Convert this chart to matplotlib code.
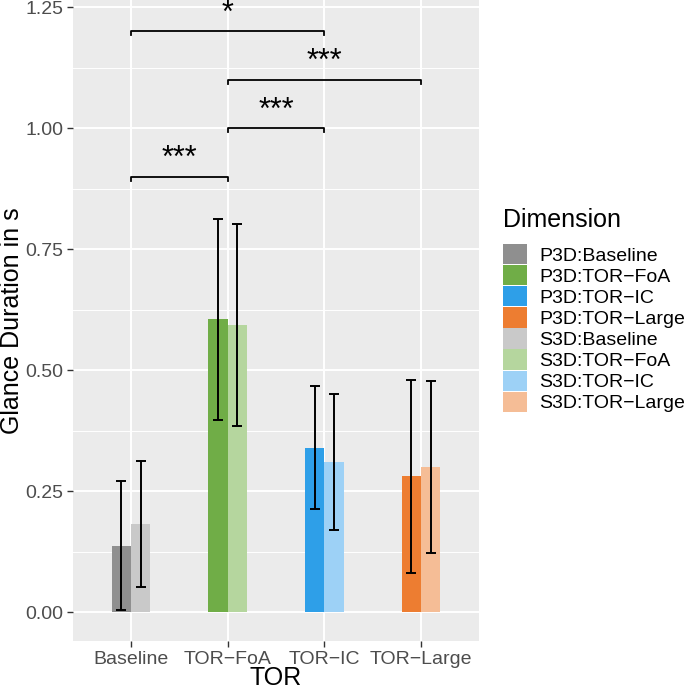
import numpy as np
from matplotlib import pyplot as plt
from matplotlib.patches import Patch

plt.rcParams["font.family"] = ["Liberation Sans", "DejaVu Sans"]

categories = ["Baseline", "TOR\u2212FoA", "TOR\u2212IC", "TOR\u2212Large"]

p3d_mean = [0.137, 0.605, 0.339, 0.281]
p3d_lower = [0.004, 0.397, 0.214, 0.082]
p3d_upper = [0.272, 0.812, 0.467, 0.480]

s3d_mean = [0.182, 0.594, 0.310, 0.300]
s3d_lower = [0.052, 0.384, 0.171, 0.123]
s3d_upper = [0.312, 0.802, 0.451, 0.478]

p3d_colors = ["#8f8f8f", "#70ad47", "#2e9fe8", "#ed7d31"]
s3d_colors = ["#c9c9c9", "#b5d69e", "#9dd1f6", "#f5bd96"]

legend_labels = ["P3D:" + c for c in categories] + ["S3D:" + c for c in categories]

bracket_start = [0, 1, 1, 0]
bracket_end = [1, 2, 3, 2]
bracket_height = [0.9, 1.0, 1.1, 1.2]
bracket_label = ["***", "***", "***", "*"]

y_ticks = [0.0, 0.25, 0.50, 0.75, 1.00, 1.25]


def main():
    figure = plt.figure(figsize=(6.85, 6.89), dpi=100)
    axis = figure.add_axes([73 / 685, 48 / 689, 406 / 685, 641 / 689])

    x = np.arange(len(categories))

    axis.bar(x - 0.1, p3d_mean, width=0.2, color=p3d_colors, zorder=2)
    axis.bar(x + 0.1, s3d_mean, width=0.2, color=s3d_colors, zorder=2)

    for offset, mean, lower, upper in [
        (-0.1, p3d_mean, p3d_lower, p3d_upper),
        (0.1, s3d_mean, s3d_lower, s3d_upper),
    ]:
        mean = np.array(mean)
        axis.errorbar(
            x + offset,
            mean,
            yerr=[mean - np.array(lower), np.array(upper) - mean],
            fmt="none",
            ecolor="black",
            elinewidth=1.4,
            capsize=3.6,
            capthick=1.4,
            zorder=3
        )

    # significance brackets
    for start, end, height, label in zip(bracket_start, bracket_end, bracket_height, bracket_label):
        axis.plot(
            [start, start, end, end],
            [height - 0.008, height, height, height - 0.008],
            color="black",
            linewidth=1.3,
            zorder=3
        )
        axis.text(
            (start + end) / 2,
            height + 0.02,
            label,
            ha="center",
            va="baseline",
            fontsize=22,
            clip_on=True
        )

    axis.set_xlim(-0.6, 3.6)
    axis.set_ylim(-0.0593, 1.265)

    axis.set_facecolor("#ebebeb")
    for spine in axis.spines.values():
        spine.set_visible(False)

    axis.set_xticks(x)
    axis.set_xticklabels(categories)
    axis.set_yticks(y_ticks)
    axis.set_yticklabels(["%.2f" % v for v in y_ticks])
    axis.set_yticks([v + 0.125 for v in y_ticks[:-1]], minor=True)

    axis.tick_params(
        which="major",
        length=4,
        width=1,
        color="#333333",
        labelcolor="#4d4d4d",
        labelsize=14,
        pad=3
    )
    axis.tick_params(which="minor", length=0)

    axis.set_axisbelow(True)
    axis.grid(which="major", color="white", linewidth=1.4)
    axis.grid(which="minor", axis="y", color="white", linewidth=0.7)

    axis.set_xlabel("TOR", fontsize=18, labelpad=-1)
    axis.set_ylabel("Glance Duration in s", fontsize=18, labelpad=1)

    handles = [Patch(facecolor=c, edgecolor="none") for c in p3d_colors + s3d_colors]
    figure.legend(
        handles,
        legend_labels,
        loc="upper left",
        bbox_to_anchor=(502.7 / 685, 1 - 244 / 689),
        frameon=False,
        borderpad=0,
        borderaxespad=0,
        handlelength=1.23,
        handleheight=1.23,
        handletextpad=0.65,
        labelspacing=0.02,
        fontsize=14
    )
    figure.text(503 / 685, 1 - 227 / 689, "Dimension", fontsize=18, va="baseline")

    figure.savefig("out.png", dpi=100)


main()
